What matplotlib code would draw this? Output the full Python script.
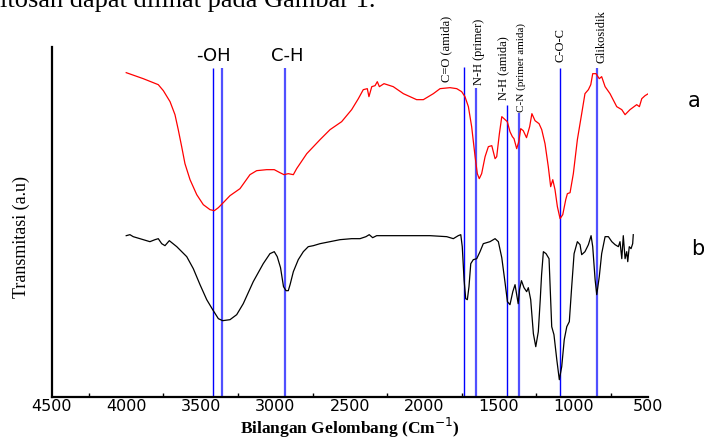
import matplotlib
matplotlib.use('Agg')
import matplotlib.pyplot as plt
from matplotlib.ticker import MultipleLocator

# ---- data ----
# spectrum a (red)
wn_a = [4000, 3886, 3785, 3751, 3706, 3673, 3651, 3628, 3606, 3572, 3527, 3483, 3438, 3409,
        3382, 3349, 3304, 3237, 3170, 3125, 3058, 3007, 2969, 2942, 2913, 2879, 2857, 2789,
        2700, 2633, 2555, 2488, 2443, 2410, 2383, 2372, 2353, 2331, 2316, 2302, 2271, 2209,
        2141, 2052, 2007, 1940, 1895, 1828, 1783, 1750, 1728, 1705, 1683, 1660, 1645, 1632,
        1616, 1593, 1571, 1548, 1526, 1515, 1497, 1481, 1466, 1444, 1426, 1410, 1399, 1381,
        1367, 1354, 1337, 1315, 1294, 1279, 1258, 1231, 1213, 1191, 1169, 1153, 1139, 1124,
        1108, 1090, 1072, 1052, 1041, 1023, 1001, 974, 945, 923, 900, 884, 871, 849, 827,
        811, 788, 755, 710, 676, 654, 621, 576, 558, 542, 520, 498]
t_a = [324, 318, 312, 306, 295, 282, 267, 250, 233, 217, 202, 192, 187, 186,
       189, 194, 201, 208, 222, 226, 227, 227, 224, 222, 223, 222, 228, 243,
       257, 267, 275, 287, 298, 307, 308, 300, 310, 311, 315, 310, 313, 310,
       303, 297, 297, 303, 308, 309, 308, 305, 300, 290, 270, 240, 223, 218,
       223, 240, 250, 251, 238, 240, 263, 280, 278, 275, 265, 260, 258, 248,
       255, 268, 266, 259, 270, 283, 276, 273, 267, 253, 230, 210, 217, 207,
       190, 178, 182, 197, 203, 204, 223, 257, 283, 303, 307, 312, 323, 323, 318,
       320, 310, 303, 290, 287, 282, 287, 292, 290, 298, 301, 303]

# spectrum b (black)
wn_b = [4000, 3975, 3953, 3908, 3841, 3807, 3785, 3762, 3740, 3711, 3661, 3594, 3550, 3505,
        3460, 3420, 3382, 3353, 3304, 3259, 3215, 3148, 3081, 3036, 3007, 2987, 2965, 2945,
        2928, 2913, 2901, 2879, 2846, 2812, 2779, 2745, 2700, 2633, 2566, 2488, 2432, 2392,
        2370, 2347, 2320, 2186, 2074, 1962, 1850, 1806, 1773, 1756, 1746, 1734, 1723, 1712,
        1701, 1689, 1672, 1649, 1627, 1605, 1560, 1526, 1504, 1481, 1459, 1443, 1426, 1407,
        1392, 1381, 1371, 1362, 1349, 1332, 1314, 1303, 1287, 1269, 1253, 1236, 1223, 1214,
        1202, 1184, 1164, 1146, 1131, 1112, 1095, 1079, 1062, 1045, 1028, 1012, 996, 974,
        956, 945, 923, 900, 882, 871, 855, 844, 827, 811, 788, 766, 743, 721, 699, 688,
        676, 666, 654, 643, 636, 626, 614, 603, 599]
t_b = [161, 162, 160, 158, 155, 157, 158, 153, 151, 156, 150, 140, 128, 112,
       97, 87, 78, 76, 77, 82, 93, 115, 133, 143, 145, 140, 129, 110,
       106, 106, 112, 125, 137, 145, 150, 151, 153, 155, 157, 158, 158, 160,
       162, 159, 161, 161, 161, 161, 160, 158, 161, 162, 150, 117, 98, 97,
       110, 133, 137, 138, 145, 153, 155, 158, 155, 139, 114, 95, 92, 105,
       112, 102, 93, 107, 116, 109, 105, 109, 97, 63, 50, 65, 97, 122,
       145, 143, 138, 70, 62, 37, 17, 30, 57, 70, 75, 110, 143, 155,
       152, 142, 145, 152, 161, 150, 117, 102, 120, 143, 160, 160, 155, 152, 150, 155,
       138, 161, 138, 145, 135, 150, 148, 153, 162]

# assignment bands
band_pos = [3420, 3360, 2935, 1735, 1655, 1445, 1365, 1090, 845]
band_top = [329, 329, 329, 330, 309, 292, 284, 329, 329]
band_color = ['#0000ff', '#5050ff', '#5050ff', '#0000ff', '#5050ff', '#0000ff', '#5050ff', '#0000ff', '#5050ff']
band_lw = [1.0, 1.6, 1.6, 1.0, 1.6, 1.0, 1.6, 1.0, 1.6]

# horizontal band labels
hlab_text = ['-OH', 'C-H']
hlab_x = [3415, 2922]
hlab_y = [332, 332]

# rotated band labels
vlab_text = ['C=O (amida)', 'N-H (primer)', 'N-H (amida)', 'C-N (primer amida)', 'C-O-C', 'Glikosidik']
vlab_x = [1850, 1634, 1473, 1352, 1084, 815]
vlab_y = [315, 312, 297, 285, 335, 334]
vlab_size = [9, 9, 9, 8, 9, 9]

xtick_vals = [4500, 4000, 3500, 3000, 2500, 2000, 1500, 1000, 500]
xtick_labels = ['4500', '4000', '3500', '3000', '2500', '2000', '1500', '1000', '500']

# ---- figure ----
fig = plt.figure(figsize=(7.04, 4.41), dpi=100)
ax = fig.add_axes([0.0734, 0.1005, 0.8471, 0.7937])
ax.set_xlim(4500, 500)
ax.set_ylim(0, 350)

for x, top, c, w in zip(band_pos, band_top, band_color, band_lw):
    ax.vlines(x, 0, top, colors=c, lw=w, zorder=1)

ax.plot(wn_a, t_a, color='#ff0000', lw=0.9, zorder=2)
ax.plot(wn_b, t_b, color='black', lw=0.9, zorder=2)

for s in ['top', 'right']:
    ax.spines[s].set_visible(False)
ax.spines['left'].set_linewidth(1.6)
ax.spines['bottom'].set_linewidth(1.6)

ax.set_xticks(xtick_vals)
ax.set_xticklabels(xtick_labels, family='DejaVu Sans', fontsize=11.5)
ax.xaxis.set_minor_locator(MultipleLocator(250))
ax.tick_params(axis='x', which='major', length=0, pad=1.5)
ax.tick_params(axis='x', which='minor', direction='in', length=3, width=1)
ax.set_yticks([])

for t, x, y in zip(hlab_text, hlab_x, hlab_y):
    ax.text(x, y, t, ha='center', va='bottom', family='DejaVu Sans', fontsize=13)

for t, x, y, s in zip(vlab_text, vlab_x, vlab_y, vlab_size):
    ax.text(x, y, t, ha='center', va='bottom', rotation=90,
            family='Liberation Serif', fontsize=s)

fig.text(694 / 704, 1 - 101 / 441, 'a', ha='center', va='center', family='DejaVu Sans', fontsize=15)
fig.text(698 / 704, 1 - 249 / 441, 'b', ha='center', va='center', family='DejaVu Sans', fontsize=15)

fig.text(21 / 704, 1 - 237 / 441, 'Transmitasi (a.u)', rotation=90, ha='center', va='center',
         family='Liberation Serif', fontsize=13)
fig.text(350 / 704, 1 - 434 / 441, 'Bilangan Gelombang (Cm$^{-1}$)', ha='center', va='baseline',
         family='Liberation Serif', fontsize=12.5, fontweight='bold')
fig.text(0.0, 1 - 7 / 441, 'itosan dapat dilihat pada Gambar 1.', ha='left', va='baseline',
         family='Liberation Serif', fontsize=19)

fig.savefig('out.png', dpi=100)
